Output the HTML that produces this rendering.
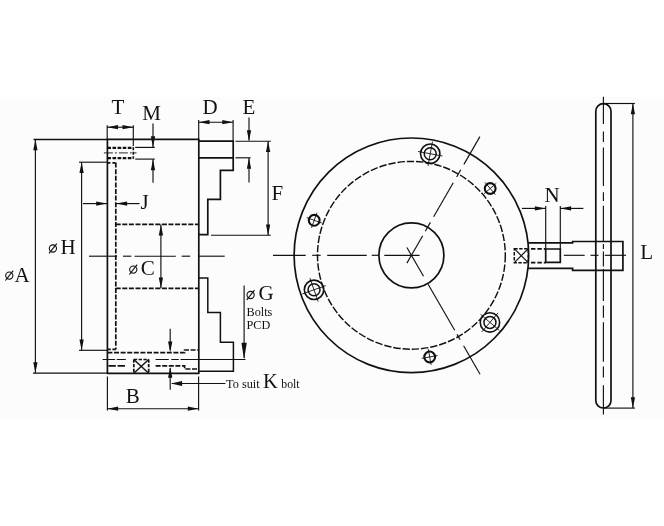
<!DOCTYPE html>
<html>
<head>
<meta charset="utf-8">
<title>Chuck dimensions</title>
<style>
html,body{margin:0;padding:0;background:#fff;}
body{width:664px;height:526px;overflow:hidden;font-family:"Liberation Serif",serif;}
svg{display:block;will-change:transform;}
svg text{font-family:"Liberation Serif",serif;fill:#111;stroke:none;}
</style>
</head>
<body>
<svg width="664" height="526" viewBox="0 0 664 526" stroke="#111" fill="none">
<rect x="0" y="0" width="664" height="526" fill="#ffffff" stroke="none"/>
<rect x="0" y="96.8" width="664" height="322.7" fill="#fcfcfc" stroke="none"/>
<line x1="33.50" y1="139.40" x2="107.40" y2="139.40" stroke-width="1.5" stroke-linecap="butt"/>
<line x1="107.40" y1="139.40" x2="198.80" y2="139.40" stroke-width="1.7" stroke-linecap="butt"/>
<line x1="107.40" y1="138.60" x2="107.40" y2="374.10" stroke-width="1.7" stroke-linecap="butt"/>
<line x1="198.80" y1="138.60" x2="198.80" y2="374.10" stroke-width="1.7" stroke-linecap="butt"/>
<line x1="107.40" y1="373.30" x2="198.80" y2="373.30" stroke-width="1.7" stroke-linecap="butt"/>
<line x1="33.00" y1="373.10" x2="107.40" y2="373.10" stroke-width="1.15" stroke-linecap="butt"/>
<path d="M199,141.2 H233.2 V170.4 H220.4 V199.3 H207.8 V234.7 H199" stroke-width="1.7" fill="none"/>
<line x1="199.00" y1="157.80" x2="233.20" y2="157.80" stroke-width="1.7" stroke-linecap="butt"/>
<path d="M199,277.9 H207.8 V312.6 H220.4 V342.2 H233.4 V371.2 H199" stroke-width="1.5" fill="none"/>
<line x1="115.80" y1="162.60" x2="115.80" y2="349.40" stroke-width="1.7" stroke-dasharray="5 1.6" stroke-linecap="butt"/>
<line x1="107.40" y1="162.80" x2="115.70" y2="162.80" stroke-width="1.7" stroke-dasharray="3 2" stroke-linecap="butt"/>
<line x1="115.70" y1="224.40" x2="199.00" y2="224.40" stroke-width="1.7" stroke-dasharray="5 1.6" stroke-linecap="butt"/>
<line x1="115.70" y1="288.40" x2="199.00" y2="288.40" stroke-width="1.7" stroke-dasharray="5 1.6" stroke-linecap="butt"/>
<line x1="107.40" y1="349.40" x2="116.40" y2="349.40" stroke-width="1.7" stroke-dasharray="3.4 1.6" stroke-linecap="butt"/>
<line x1="107.40" y1="147.90" x2="133.30" y2="147.90" stroke-width="2.2" stroke-dasharray="3.6 1.5" stroke-linecap="butt"/>
<line x1="107.40" y1="158.10" x2="133.30" y2="158.10" stroke-width="2.2" stroke-dasharray="3.6 1.5" stroke-linecap="butt"/>
<line x1="133.30" y1="147.30" x2="133.30" y2="158.70" stroke-width="1.6" stroke-dasharray="3 1.5" stroke-linecap="butt"/>
<line x1="103.90" y1="152.90" x2="136.50" y2="152.90" stroke-width="0.9" stroke-dasharray="9 2 2 2" stroke-linecap="butt"/>
<path d="M107.4,352.6 H184.6 V350 H199" stroke-width="1.7" fill="none" stroke-dasharray="5 1.6"/>
<path d="M155.6,365.8 H184.6 V369 H199" stroke-width="1.7" fill="none" stroke-dasharray="5 1.6"/>
<line x1="108.40" y1="365.80" x2="125.80" y2="365.80" stroke-width="1.7" stroke-dasharray="7.4 1.8" stroke-linecap="butt"/>
<line x1="102.60" y1="359.50" x2="125.80" y2="359.50" stroke-width="1.15" stroke-dasharray="12.5 1.6 9.1 20" stroke-linecap="butt"/>
<line x1="155.60" y1="359.50" x2="245.50" y2="359.50" stroke-width="1.15" stroke-dasharray="13.2 2.5 7.5 1.7 200" stroke-linecap="butt"/>
<path d="M133.8,359.5 V373.3 M148.7,359.5 V373.3" stroke-width="1.7" fill="none" stroke-dasharray="3.2 1.4"/>
<line x1="133.80" y1="359.50" x2="148.70" y2="359.50" stroke-width="1.6" stroke-dasharray="3.4 1.4" stroke-linecap="butt"/>
<line x1="133.80" y1="359.50" x2="148.70" y2="373.30" stroke-width="1.4" stroke-linecap="butt"/>
<line x1="148.70" y1="359.50" x2="133.80" y2="373.30" stroke-width="1.4" stroke-linecap="butt"/>
<line x1="89.00" y1="256.20" x2="117.00" y2="256.20" stroke-width="1.15" stroke-linecap="butt"/>
<line x1="123.00" y1="256.20" x2="131.30" y2="256.20" stroke-width="1.15" stroke-linecap="butt"/>
<line x1="134.50" y1="256.20" x2="175.80" y2="256.20" stroke-width="1.15" stroke-linecap="butt"/>
<line x1="181.70" y1="256.20" x2="190.20" y2="256.20" stroke-width="1.15" stroke-linecap="butt"/>
<line x1="198.30" y1="256.20" x2="224.70" y2="256.20" stroke-width="1.15" stroke-linecap="butt"/>
<line x1="35.40" y1="139.40" x2="35.40" y2="373.30" stroke-width="1.15" stroke-linecap="butt"/>
<polygon points="35.40,139.40 37.55,150.20 33.25,150.20" fill="#111" stroke="none"/>
<polygon points="35.40,373.10 33.25,362.30 37.55,362.30" fill="#111" stroke="none"/>
<line x1="79.00" y1="162.20" x2="107.40" y2="162.20" stroke-width="1.15" stroke-linecap="butt"/>
<line x1="79.00" y1="350.30" x2="107.40" y2="350.30" stroke-width="1.15" stroke-linecap="butt"/>
<line x1="81.60" y1="162.20" x2="81.60" y2="350.30" stroke-width="1.15" stroke-linecap="butt"/>
<polygon points="81.60,162.20 83.75,173.00 79.45,173.00" fill="#111" stroke="none"/>
<polygon points="81.60,350.30 79.45,339.50 83.75,339.50" fill="#111" stroke="none"/>
<line x1="107.20" y1="125.20" x2="107.20" y2="139.40" stroke-width="1.15" stroke-linecap="butt"/>
<line x1="133.30" y1="125.20" x2="133.30" y2="146.00" stroke-width="1.15" stroke-linecap="butt"/>
<line x1="107.20" y1="127.20" x2="133.30" y2="127.20" stroke-width="1.15" stroke-linecap="butt"/>
<polygon points="107.20,127.20 118.00,125.05 118.00,129.35" fill="#111" stroke="none"/>
<polygon points="133.30,127.20 122.50,129.35 122.50,125.05" fill="#111" stroke="none"/>
<line x1="153.00" y1="123.50" x2="153.00" y2="147.00" stroke-width="1.15" stroke-linecap="butt"/>
<polygon points="153.00,147.20 150.85,136.20 155.15,136.20" fill="#111" stroke="none"/>
<line x1="135.20" y1="147.40" x2="154.80" y2="147.40" stroke-width="1.15" stroke-linecap="butt"/>
<line x1="135.20" y1="159.10" x2="154.80" y2="159.10" stroke-width="1.15" stroke-linecap="butt"/>
<line x1="153.00" y1="159.40" x2="153.00" y2="182.70" stroke-width="1.15" stroke-linecap="butt"/>
<polygon points="153.00,159.30 155.15,170.30 150.85,170.30" fill="#111" stroke="none"/>
<line x1="83.00" y1="203.60" x2="107.00" y2="203.60" stroke-width="1.15" stroke-linecap="butt"/>
<polygon points="107.00,203.60 96.20,205.75 96.20,201.45" fill="#111" stroke="none"/>
<line x1="116.00" y1="203.60" x2="139.50" y2="203.60" stroke-width="1.15" stroke-linecap="butt"/>
<polygon points="116.30,203.60 127.10,201.45 127.10,205.75" fill="#111" stroke="none"/>
<line x1="160.90" y1="224.60" x2="160.90" y2="288.20" stroke-width="1.15" stroke-linecap="butt"/>
<polygon points="160.90,224.60 163.05,235.40 158.75,235.40" fill="#111" stroke="none"/>
<polygon points="160.90,288.20 158.75,277.40 163.05,277.40" fill="#111" stroke="none"/>
<line x1="198.70" y1="120.00" x2="198.70" y2="139.40" stroke-width="1.15" stroke-linecap="butt"/>
<line x1="233.10" y1="120.00" x2="233.10" y2="141.00" stroke-width="1.15" stroke-linecap="butt"/>
<line x1="198.70" y1="122.20" x2="233.10" y2="122.20" stroke-width="1.15" stroke-linecap="butt"/>
<polygon points="198.70,122.20 209.50,120.05 209.50,124.35" fill="#111" stroke="none"/>
<polygon points="233.10,122.20 222.30,124.35 222.30,120.05" fill="#111" stroke="none"/>
<line x1="249.00" y1="117.60" x2="249.00" y2="140.60" stroke-width="1.15" stroke-linecap="butt"/>
<polygon points="249.00,141.00 246.85,130.20 251.15,130.20" fill="#111" stroke="none"/>
<line x1="235.40" y1="141.20" x2="270.80" y2="141.20" stroke-width="1.15" stroke-linecap="butt"/>
<line x1="235.40" y1="157.80" x2="250.60" y2="157.80" stroke-width="1.15" stroke-linecap="butt"/>
<line x1="249.00" y1="158.00" x2="249.00" y2="182.50" stroke-width="1.15" stroke-linecap="butt"/>
<polygon points="249.00,158.00 251.15,168.80 246.85,168.80" fill="#111" stroke="none"/>
<line x1="268.10" y1="141.20" x2="268.10" y2="235.20" stroke-width="1.15" stroke-linecap="butt"/>
<polygon points="268.10,141.20 270.25,152.00 265.95,152.00" fill="#111" stroke="none"/>
<polygon points="268.10,235.20 265.95,224.40 270.25,224.40" fill="#111" stroke="none"/>
<line x1="211.00" y1="235.20" x2="270.80" y2="235.20" stroke-width="1.15" stroke-linecap="butt"/>
<line x1="244.10" y1="285.40" x2="244.10" y2="358.00" stroke-width="1.15" stroke-linecap="butt"/>
<polygon points="244.10,359.20 241.40,342.70 246.80,342.70" fill="#111" stroke="none"/>
<line x1="170.20" y1="328.80" x2="170.20" y2="350.00" stroke-width="1.15" stroke-linecap="butt"/>
<polygon points="170.20,352.40 168.05,341.60 172.35,341.60" fill="#111" stroke="none"/>
<line x1="170.20" y1="368.00" x2="170.20" y2="389.70" stroke-width="1.15" stroke-linecap="butt"/>
<polygon points="170.20,367.00 172.35,377.80 168.05,377.80" fill="#111" stroke="none"/>
<line x1="172.00" y1="383.50" x2="225.40" y2="383.50" stroke-width="1.15" stroke-linecap="butt"/>
<polygon points="170.80,383.50 182.10,381.10 182.10,385.90" fill="#111" stroke="none"/>
<line x1="107.40" y1="376.60" x2="107.40" y2="410.50" stroke-width="1.15" stroke-linecap="butt"/>
<line x1="198.60" y1="376.60" x2="198.60" y2="410.50" stroke-width="1.15" stroke-linecap="butt"/>
<line x1="107.40" y1="408.70" x2="198.60" y2="408.70" stroke-width="1.15" stroke-linecap="butt"/>
<polygon points="107.40,408.70 118.20,406.55 118.20,410.85" fill="#111" stroke="none"/>
<polygon points="198.60,408.70 187.80,410.85 187.80,406.55" fill="#111" stroke="none"/>
<circle cx="411.40" cy="255.30" r="117.30" stroke-width="1.7" fill="none"/>
<circle cx="411.40" cy="255.30" r="93.90" stroke-width="1.45" fill="none" stroke-dasharray="7.4 1.9"/>
<circle cx="411.40" cy="255.30" r="32.50" stroke-width="1.7" fill="none"/>
<circle cx="430.22" cy="153.73" r="9.70" stroke-width="1.6" fill="none"/>
<circle cx="430.22" cy="153.73" r="6.00" stroke-width="1.5" fill="none"/>
<line x1="427.97" y1="165.92" x2="432.48" y2="141.54" stroke-width="0.9" stroke-linecap="butt"/>
<line x1="442.42" y1="155.99" x2="418.03" y2="151.47" stroke-width="0.9" stroke-linecap="butt"/>
<circle cx="314.03" cy="289.78" r="9.70" stroke-width="1.6" fill="none"/>
<circle cx="314.03" cy="289.78" r="6.00" stroke-width="1.5" fill="none"/>
<line x1="325.71" y1="285.64" x2="302.34" y2="293.92" stroke-width="0.9" stroke-linecap="butt"/>
<line x1="309.89" y1="278.09" x2="318.16" y2="301.47" stroke-width="0.9" stroke-linecap="butt"/>
<circle cx="489.95" cy="322.39" r="9.70" stroke-width="1.6" fill="none"/>
<circle cx="489.95" cy="322.39" r="6.00" stroke-width="1.5" fill="none"/>
<line x1="480.52" y1="314.33" x2="499.38" y2="330.44" stroke-width="0.9" stroke-linecap="butt"/>
<line x1="481.90" y1="331.82" x2="498.00" y2="312.96" stroke-width="0.9" stroke-linecap="butt"/>
<circle cx="490.18" cy="188.49" r="5.40" stroke-width="2.1" fill="none"/>
<line x1="484.08" y1="193.66" x2="496.28" y2="183.31" stroke-width="0.9" stroke-linecap="butt"/>
<line x1="495.36" y1="194.59" x2="485.01" y2="182.39" stroke-width="0.9" stroke-linecap="butt"/>
<circle cx="314.21" cy="220.31" r="5.40" stroke-width="2.1" fill="none"/>
<line x1="321.73" y1="223.02" x2="306.68" y2="217.60" stroke-width="0.9" stroke-linecap="butt"/>
<line x1="316.92" y1="212.78" x2="311.50" y2="227.84" stroke-width="0.9" stroke-linecap="butt"/>
<circle cx="429.69" cy="356.97" r="5.40" stroke-width="2.1" fill="none"/>
<line x1="428.28" y1="349.09" x2="431.11" y2="364.84" stroke-width="0.9" stroke-linecap="butt"/>
<line x1="421.82" y1="358.38" x2="437.57" y2="355.55" stroke-width="0.9" stroke-linecap="butt"/>
<line x1="273.00" y1="255.30" x2="305.70" y2="255.30" stroke-width="1.15" stroke-linecap="butt"/>
<line x1="312.20" y1="255.30" x2="320.70" y2="255.30" stroke-width="1.15" stroke-linecap="butt"/>
<line x1="327.20" y1="255.30" x2="366.70" y2="255.30" stroke-width="1.15" stroke-linecap="butt"/>
<line x1="371.70" y1="255.30" x2="379.20" y2="255.30" stroke-width="1.15" stroke-linecap="butt"/>
<line x1="384.30" y1="255.30" x2="419.60" y2="255.30" stroke-width="1.15" stroke-linecap="butt"/>
<line x1="406.90" y1="263.09" x2="422.70" y2="235.73" stroke-width="1.15" stroke-linecap="butt"/>
<line x1="425.30" y1="231.22" x2="430.40" y2="222.39" stroke-width="1.15" stroke-linecap="butt"/>
<line x1="433.65" y1="216.76" x2="453.25" y2="182.81" stroke-width="1.15" stroke-linecap="butt"/>
<line x1="456.65" y1="176.92" x2="460.75" y2="169.82" stroke-width="1.15" stroke-linecap="butt"/>
<line x1="463.90" y1="164.37" x2="479.90" y2="136.65" stroke-width="1.15" stroke-linecap="butt"/>
<line x1="406.90" y1="247.51" x2="423.50" y2="276.26" stroke-width="1.15" stroke-linecap="butt"/>
<line x1="428.10" y1="284.23" x2="454.70" y2="330.30" stroke-width="1.15" stroke-linecap="butt"/>
<line x1="457.00" y1="334.28" x2="460.10" y2="339.65" stroke-width="1.15" stroke-linecap="butt"/>
<line x1="463.60" y1="345.71" x2="480.05" y2="374.21" stroke-width="1.15" stroke-linecap="butt"/>
<path d="M514.3,248.7 H528.2 V262.7 H514.3 Z" stroke-width="1.5" fill="none" stroke-dasharray="3.4 1.5"/>
<line x1="514.30" y1="248.70" x2="528.20" y2="262.70" stroke-width="1.2" stroke-linecap="butt"/>
<line x1="528.20" y1="248.70" x2="514.30" y2="262.70" stroke-width="1.2" stroke-linecap="butt"/>
<path d="M528.2,242.8 H572.6 V241.5 H622.9 V270.4 H572.6 V268.4 H528.2" stroke-width="1.7" fill="none"/>
<line x1="531.00" y1="248.80" x2="545.70" y2="248.80" stroke-width="1.7" stroke-dasharray="4.4 2" stroke-linecap="butt"/>
<line x1="531.00" y1="262.60" x2="545.70" y2="262.60" stroke-width="1.7" stroke-dasharray="4.4 2" stroke-linecap="butt"/>
<path d="M545.7,249 H560.3 V262.4 H545.7 Z" stroke-width="1.7" fill="none"/>
<line x1="545.70" y1="206.00" x2="545.70" y2="249.00" stroke-width="1.15" stroke-linecap="butt"/>
<line x1="560.30" y1="206.00" x2="560.30" y2="249.00" stroke-width="1.15" stroke-linecap="butt"/>
<line x1="521.90" y1="208.40" x2="545.70" y2="208.40" stroke-width="1.15" stroke-linecap="butt"/>
<polygon points="545.70,208.40 534.90,210.55 534.90,206.25" fill="#111" stroke="none"/>
<line x1="560.30" y1="208.40" x2="583.40" y2="208.40" stroke-width="1.15" stroke-linecap="butt"/>
<polygon points="560.30,208.40 571.10,206.25 571.10,210.55" fill="#111" stroke="none"/>
<path d="M595.8,111.2 A7.6,7.6 0 0 1 611,111.2 V400.4 A7.6,7.6 0 0 1 595.8,400.4 Z" stroke-width="1.7" fill="none"/>
<line x1="603.40" y1="96.80" x2="603.40" y2="124.00" stroke-width="1.15" stroke-linecap="butt"/>
<line x1="603.40" y1="131.40" x2="603.40" y2="141.90" stroke-width="1.15" stroke-linecap="butt"/>
<line x1="603.40" y1="147.40" x2="603.40" y2="186.00" stroke-width="1.15" stroke-linecap="butt"/>
<line x1="603.40" y1="192.20" x2="603.40" y2="200.90" stroke-width="1.15" stroke-linecap="butt"/>
<line x1="603.40" y1="205.80" x2="603.40" y2="241.50" stroke-width="1.15" stroke-linecap="butt"/>
<line x1="603.40" y1="244.00" x2="603.40" y2="249.00" stroke-width="1.15" stroke-linecap="butt"/>
<line x1="603.40" y1="251.50" x2="603.40" y2="266.50" stroke-width="1.15" stroke-linecap="butt"/>
<line x1="603.40" y1="269.00" x2="603.40" y2="301.00" stroke-width="1.15" stroke-linecap="butt"/>
<line x1="603.40" y1="305.60" x2="603.40" y2="317.70" stroke-width="1.15" stroke-linecap="butt"/>
<line x1="603.40" y1="322.30" x2="603.40" y2="361.80" stroke-width="1.15" stroke-linecap="butt"/>
<line x1="603.40" y1="366.40" x2="603.40" y2="377.50" stroke-width="1.15" stroke-linecap="butt"/>
<line x1="603.40" y1="385.30" x2="603.40" y2="414.60" stroke-width="1.15" stroke-linecap="butt"/>
<line x1="563.80" y1="255.30" x2="584.70" y2="255.30" stroke-width="1.15" stroke-linecap="butt"/>
<line x1="590.50" y1="255.30" x2="598.50" y2="255.30" stroke-width="1.15" stroke-linecap="butt"/>
<line x1="604.80" y1="255.30" x2="626.00" y2="255.30" stroke-width="1.15" stroke-linecap="butt"/>
<line x1="603.40" y1="103.50" x2="634.90" y2="103.50" stroke-width="1.15" stroke-linecap="butt"/>
<line x1="603.40" y1="408.10" x2="634.90" y2="408.10" stroke-width="1.15" stroke-linecap="butt"/>
<line x1="632.90" y1="103.50" x2="632.90" y2="408.10" stroke-width="1.15" stroke-linecap="butt"/>
<polygon points="632.90,103.50 635.05,114.30 630.75,114.30" fill="#111" stroke="none"/>
<polygon points="632.90,408.10 630.75,397.30 635.05,397.30" fill="#111" stroke="none"/>
<text x="118.00" y="113.80" font-size="21" text-anchor="middle" font-weight="normal" >T</text>
<text x="151.50" y="119.60" font-size="21" text-anchor="middle" font-weight="normal" >M</text>
<text x="210.00" y="113.50" font-size="21" text-anchor="middle" font-weight="normal" >D</text>
<text x="249.00" y="113.50" font-size="21" text-anchor="middle" font-weight="normal" >E</text>
<text x="277.40" y="199.80" font-size="21" text-anchor="middle" font-weight="normal" >F</text>
<text x="144.60" y="208.80" font-size="21" text-anchor="middle" font-weight="normal" >J</text>
<text x="68.00" y="254.00" font-size="21" text-anchor="middle" font-weight="normal" >H</text>
<circle cx="52.90" cy="248.50" r="3.60" stroke-width="1.1" fill="none"/>
<line x1="49.00" y1="253.40" x2="56.80" y2="243.60" stroke-width="1.15" stroke-linecap="butt"/>
<text x="22.00" y="282.40" font-size="21" text-anchor="middle" font-weight="normal" >A</text>
<circle cx="9.30" cy="275.60" r="3.60" stroke-width="1.1" fill="none"/>
<line x1="5.40" y1="280.50" x2="13.20" y2="270.70" stroke-width="1.15" stroke-linecap="butt"/>
<text x="147.70" y="275.20" font-size="21" text-anchor="middle" font-weight="normal" >C</text>
<circle cx="133.25" cy="269.60" r="3.60" stroke-width="1.1" fill="none"/>
<line x1="129.35" y1="274.50" x2="137.15" y2="264.70" stroke-width="1.15" stroke-linecap="butt"/>
<text x="266.00" y="300.30" font-size="21" text-anchor="middle" font-weight="normal" >G</text>
<circle cx="250.60" cy="295.00" r="3.60" stroke-width="1.1" fill="none"/>
<line x1="246.70" y1="299.90" x2="254.50" y2="290.10" stroke-width="1.15" stroke-linecap="butt"/>
<text x="246.60" y="315.80" font-size="12.2" text-anchor="start" font-weight="normal" >Bolts</text>
<text x="246.60" y="329.20" font-size="12.2" text-anchor="start" font-weight="normal" >PCD</text>
<text x="132.70" y="402.50" font-size="21" text-anchor="middle" font-weight="normal" >B</text>
<text x="552.00" y="201.70" font-size="21" text-anchor="middle" font-weight="normal" >N</text>
<text x="646.70" y="259.00" font-size="21" text-anchor="middle" font-weight="normal" >L</text>
<text x="226.00" y="388.20" font-size="12.3" text-anchor="start" font-weight="normal" >To suit</text>
<text x="270.40" y="387.60" font-size="20.5" text-anchor="middle" font-weight="normal" >K</text>
<text x="281.30" y="388.20" font-size="11.8" text-anchor="start" font-weight="normal" >bolt</text>
</svg>
</body>
</html>
